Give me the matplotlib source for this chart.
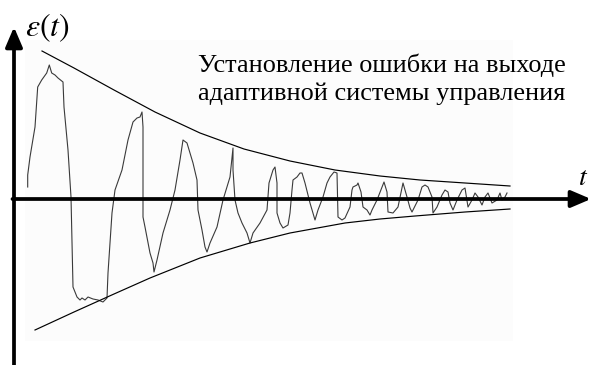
import matplotlib.pyplot as plt
from matplotlib.patches import Rectangle

plt.rcParams['mathtext.fontset'] = 'stix'

# error signal (time in samples, error in arbitrary units)
t_sig = [13.7, 13.7, 16, 21, 23.7, 27.7, 32.7, 35.3, 37.7, 41, 44, 49, 50, 54, 57, 58, 59, 63, 66, 68,
         71, 74, 79, 84, 89, 93, 94, 98, 101, 108, 114, 119, 123, 126, 128, 129, 129, 131, 136, 139,
         140, 143, 149, 156, 161, 166, 169, 173, 179, 183, 184, 188, 191, 193, 196, 203, 209, 216, 218, 219,
         219, 221, 224, 228, 233, 236, 239, 246, 253, 255, 259, 261, 263, 263, 266, 269, 274, 276, 278, 279,
         283, 286, 288, 291, 296, 301, 304, 309, 313, 316, 320, 323, 324, 328, 331, 336, 338, 339, 343, 344,
         347, 349, 353, 356, 358, 363, 368, 370, 373, 374, 379, 384, 388, 389, 393, 396, 398, 404, 408, 411,
         414, 418, 419, 423, 428, 431, 434, 436, 439, 443, 448, 451, 454, 458, 461, 464, 468, 471, 474, 478,
         483, 486, 488, 491, 493]
e_sig = [12, 24, 42, 72, 112, 119, 126, 134, 126, 124, 121, 117, 92, 49, 2, -41, -88, -98, -101, -99,
         -101, -98, -100, -101, -103, -99, -74, -14, 9, 29, 59, 77, 81, 82, 87, 72, -18, -28, -54, -64,
         -73, -61, -34, -11, 9, 39, 59, 56, 36, 19, -11, -31, -48, -53, -44, -28, -1, 22, 42, 51,
         29, -1, -14, -24, -34, -44, -34, -24, -11, 16, 29, 32, 16, -14, -24, -29, -26, -14, 9, 19,
         22, 26, 26, 16, -4, -21, -11, 2, 16, 22, 27, 26, -18, -21, -19, -8, 9, 12, 14, 16,
         7, -8, -11, -16, -11, -1, 12, 17, 7, -13, -14, -8, 11, 16, 2, -9, -13, -1, 12, 14,
         12, 2, -14, -8, 4, 9, 7, -4, -11, -1, 9, 11, -8, -1, 6, 2, -6, 2, 6, -4,
         -1, 6, -1, 2, 6]

# envelopes
t_up = [28, 60, 100, 141, 186, 230, 276, 321, 366, 406, 451, 496]
e_up = [148, 131, 109, 87, 66, 50, 38, 29, 23, 19, 16, 13]
t_low = [21, 60, 100, 136, 186, 236, 276, 331, 366, 401, 451, 496]
e_low = [-131, -113, -95, -79, -59, -44, -34, -24, -20, -17, -13, -10]

title_lines = ["Установление ошибки на выходе", "адаптивной системы управления"]

fig = plt.figure(figsize=(5.91, 3.65), dpi=100)
ax = fig.add_axes([0, 0, 1, 1])
ax.set_xlim(-14, 577)
ax.set_ylim(-166, 199)
ax.axis('off')

ax.add_patch(Rectangle((11, -142), 488, 301, color='#fcfcfc', lw=0, zorder=0))

ax.plot(t_sig, e_sig, color='#3a3a3a', lw=0.8, zorder=2)
ax.plot(t_up, e_up, color='k', lw=0.85, zorder=2)
ax.plot(t_low, e_low, color='k', lw=0.85, zorder=2)

arrow = dict(arrowstyle='-|>,head_length=0.75,head_width=0.32', lw=2.7, color='k',
             mutation_scale=16, shrinkA=0, shrinkB=0)
ax.annotate('', xy=(0, 172), xytext=(0, -170), arrowprops=arrow, zorder=3)
ax.annotate('', xy=(577, 0), xytext=(-1.5, 0), arrowprops=arrow, zorder=3)

ax.text(11, 163, r'$\varepsilon(t)$', fontsize=23, va='baseline', ha='left')
ax.text(564, 14, r'$t$', fontsize=20, va='baseline', ha='left')
ax.text(184, 127, title_lines[0], fontsize=18.9, family='Liberation Serif', va='baseline')
ax.text(184, 99, title_lines[1], fontsize=18.9, family='Liberation Serif', va='baseline')

fig.savefig('out.png', dpi=100)
